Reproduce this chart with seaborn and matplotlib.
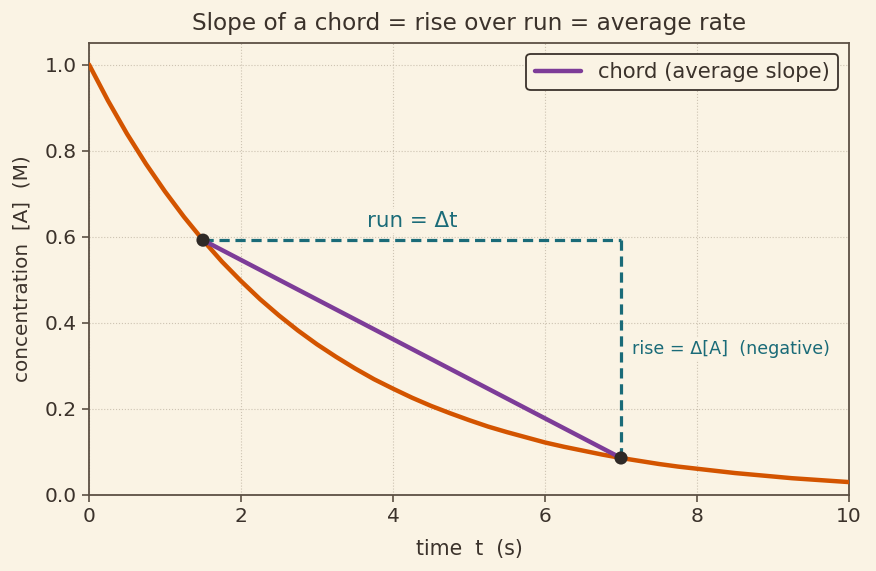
import numpy as np
import pandas as pd
import matplotlib
matplotlib.use("Agg")
import matplotlib.pyplot as plt
import seaborn as sns

# concentration curve [A](t)
t_vals = [0.0, 0.25, 0.5, 0.75, 1.0, 1.25, 1.5, 1.75, 2.0, 2.25, 2.5, 2.75, 3.0,
          3.25, 3.5, 3.75, 4.0, 4.25, 4.5, 4.75, 5.0, 5.25, 5.5, 5.75, 6.0,
          6.25, 6.5, 6.75, 7.0, 7.25, 7.5, 7.75, 8.0, 8.25, 8.5, 8.75, 9.0,
          9.25, 9.5, 9.75, 10.0]
conc_vals = [1.000, 0.916, 0.839, 0.769, 0.705, 0.646, 0.592, 0.542, 0.497,
             0.455, 0.417, 0.382, 0.350, 0.321, 0.294, 0.269, 0.247, 0.226,
             0.207, 0.190, 0.174, 0.159, 0.146, 0.134, 0.122, 0.112, 0.103,
             0.094, 0.086, 0.079, 0.072, 0.066, 0.061, 0.056, 0.051, 0.047,
             0.043, 0.039, 0.036, 0.033, 0.030]

# chord end points
chord_t = [1.5, 7.0]
chord_c = [0.592, 0.086]

BG = "#FAF3E4"
TXT = "#3b322b"
SPINE = "#5c5044"
ORANGE = "#D35400"
PURPLE = "#7D3C98"
TEAL = "#1A6B78"
DOT = "#2f2926"

sns.set_theme(style="whitegrid")
plt.rcParams.update({
    "font.family": ["DejaVu Sans"],
    "figure.facecolor": BG,
    "axes.facecolor": BG,
    "axes.edgecolor": SPINE,
    "axes.labelcolor": TXT,
    "text.color": TXT,
    "xtick.color": TXT,
    "ytick.color": TXT,
})

fig, ax = plt.subplots(figsize=(8.76, 5.71), dpi=100)
fig.subplots_adjust(left=0.1016, right=0.9692, top=0.9247, bottom=0.1331)

curve_df = pd.DataFrame({"t": t_vals, "c": conc_vals})
chord_df = pd.DataFrame({"t": chord_t, "c": chord_c})

sns.lineplot(data=curve_df, x="t", y="c", ax=ax, color=ORANGE, linewidth=3.2,
             zorder=3)
sns.lineplot(data=chord_df, x="t", y="c", ax=ax, color=PURPLE, linewidth=3.2,
             label="chord (average slope)", zorder=4)

# run / rise guides
ax.plot([chord_t[0], chord_t[1]], [chord_c[0], chord_c[0]], color=TEAL,
        linestyle=(0, (3.2, 1.8)), linewidth=2.3, zorder=3)
ax.plot([chord_t[1], chord_t[1]], [chord_c[0], chord_c[1]], color=TEAL,
        linestyle=(0, (3.2, 1.8)), linewidth=2.3, zorder=3)

sns.scatterplot(data=chord_df, x="t", y="c", ax=ax, color=DOT, s=90,
                edgecolor="none", zorder=5)

ax.text((chord_t[0] + chord_t[1]) / 2, 0.637, "run = Δt", color=TEAL,
        fontsize=15.4, ha="center", va="center",
        bbox=dict(facecolor=BG, edgecolor="none", pad=1.5), zorder=6)
ax.text(chord_t[1] + 0.14, 0.34, "rise = Δ[A]  (negative)", color=TEAL,
        fontsize=12.6, ha="left", va="center",
        bbox=dict(facecolor=BG, edgecolor="none", pad=1.5), zorder=6)

ax.set_xlim(0, 10)
ax.set_ylim(0, 1.05)
ax.set_xticks([0, 2, 4, 6, 8, 10])
ax.set_yticks([0.0, 0.2, 0.4, 0.6, 0.8, 1.0])
ax.set_yticklabels(["0.0", "0.2", "0.4", "0.6", "0.8", "1.0"])
ax.tick_params(axis="both", labelsize=14.5, length=5, width=1.2,
               color=SPINE, bottom=True, left=True, pad=4)
ax.grid(True, linestyle=":", linewidth=0.8, color="#cdc3b2")
for s in ax.spines.values():
    s.set_color(SPINE)
    s.set_linewidth(1.3)

ax.set_xlabel("time  t  (s)", fontsize=14.8, color=TXT, labelpad=9)
ax.set_ylabel("concentration  [A]  (M)", fontsize=14.4, color=TXT,
              labelpad=9)
ax.set_title("Slope of a chord = rise over run = average rate", fontsize=16.7,
             color=TXT, pad=9)

leg = ax.legend(loc="upper right", fontsize=15.2, frameon=True, fancybox=True,
                handlelength=2.2)
leg.get_frame().set_facecolor(BG)
leg.get_frame().set_edgecolor(TXT)
leg.get_frame().set_linewidth(1.3)
leg.get_frame().set_alpha(1)
for txt in leg.get_texts():
    txt.set_color(TXT)

fig.savefig("out.png", dpi=100, facecolor=BG)
